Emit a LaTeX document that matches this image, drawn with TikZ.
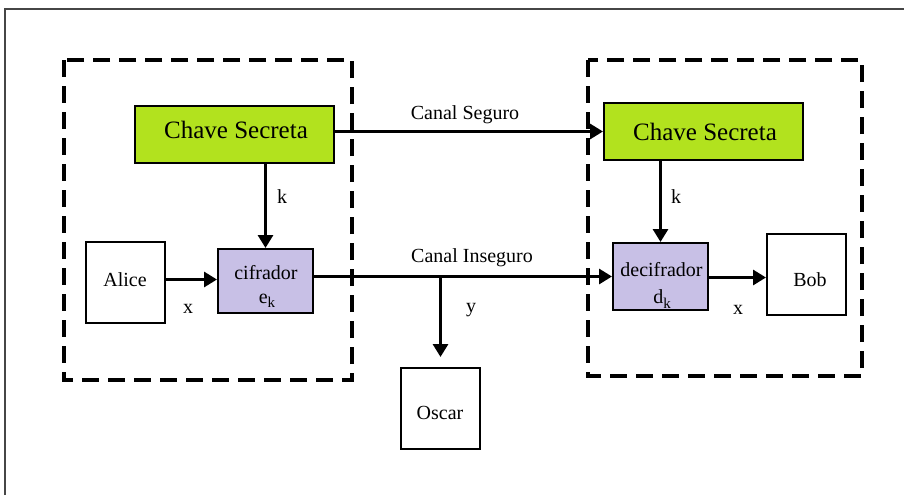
\documentclass[tikz,border=0pt]{standalone}
\usepackage{fontspec}
\setmainfont{Liberation Serif}
\usetikzlibrary{arrows.meta,calc}
\definecolor{keygreen}{RGB}{178,226,30}
\definecolor{cipherlilac}{RGB}{200,192,230}
\definecolor{framegray}{RGB}{70,70,70}
\tikzset{
  box/.style={draw=black,line width=2pt,inner sep=0pt,fill=white},
  keybox/.style={box,fill=keygreen,minimum width=199pt,minimum height=57pt},
  cipherbox/.style={box,fill=cipherlilac,minimum width=95pt},
  squarebox/.style={box,minimum width=79pt,minimum height=81pt},
  zone/.style={draw=black,line width=3.5pt,dash pattern=on 17pt off 9pt},
  flow/.style={draw=black,line width=3pt,-{Triangle[length=13pt,width=15pt]}},
  tag/.style={font=\fontsize{20}{24}\selectfont,inner sep=0pt},
  bigtag/.style={font=\fontsize{25}{30}\selectfont,inner sep=0pt},
}
\newcommand{\subk}[1]{#1\raisebox{-0.45ex}{\fontsize{15}{15}\selectfont k}}
\begin{document}
\begin{tikzpicture}[x=1pt,y=-1pt]
  \useasboundingbox (0,0) rectangle (904,495);
  % page frame (top and left edges)
  \draw[framegray,line width=1.3pt] (5,495) -- (5,9) -- (904,9);

  % sender and receiver zones
  \draw[zone] (64,60) rectangle (352,380);
  \draw[zone] (588,60) rectangle (862,376);

  % blocks
  \node[keybox] (lkey) at (234.5,134.5) {};
  \node[keybox] (rkey) at (703.5,131.5) {};
  \node[squarebox] (alice) at (125.5,282.5) {};
  \node[cipherbox,minimum height=64pt] (cif) at (265.5,281) {};
  \node[cipherbox,minimum height=67pt] (dec) at (660.5,276.5) {};
  \node[squarebox] (bob) at (806.5,274.5) {};
  \node[squarebox] (oscar) at (440.5,408.5) {};

  % block texts
  \node[bigtag] (lkeytxt) at (236,130) {Chave Secreta};
  \node[bigtag] (rkeytxt) at (705,131.5) {Chave Secreta};
  \node[tag] (alicetxt) at (125,280) {Alice};
  \node[tag] (ciftxt) at (266,273) {cifrador};
  \node[tag] (eksym) at (267,301) {\subk{e}};
  \node[tag] (dectxt) at (661.5,270) {decifrador};
  \node[tag] (dksym) at (662,299) {\subk{d}};
  \node[tag] (bobtxt) at (810,280) {Bob};
  \node[tag] (oscartxt) at (440,413) {Oscar};

  % connectors
  \draw[flow] (lkey.east |- rkey.west) -- (rkey.west);
  \draw[flow] (cif.north |- lkey.south) -- (cif.north);
  \draw[flow] (dec.north |- rkey.south) -- (dec.north);
  \draw[flow] ([yshift=3pt]alice.east) -- ([yshift=3pt]alice.east -| cif.west);
  \draw[flow] (cif.east |- dec.west) -- (dec.west);
  \coordinate (tap) at (oscar.north |- dec.west);
  \draw[flow,shorten >=10pt] (tap) -- (oscar.north);
  \draw[flow] ([yshift=-1pt]dec.east) -- ([yshift=-1pt]dec.east -| bob.west);

  % labels
  \node[tag] (lseg) at (465,115) {Canal Seguro};
  \node[tag] (lins) at (472,258) {Canal Inseguro};
  \node[tag] (lk1) at (282,197) {k};
  \node[tag] (lk2) at (676,197) {k};
  \node[tag] (lx1) at (188,309) {x};
  \node[tag] (lx2) at (738,310) {x};
  \node[tag] (ly) at (471,310) {y};
\end{tikzpicture}
\end{document}
